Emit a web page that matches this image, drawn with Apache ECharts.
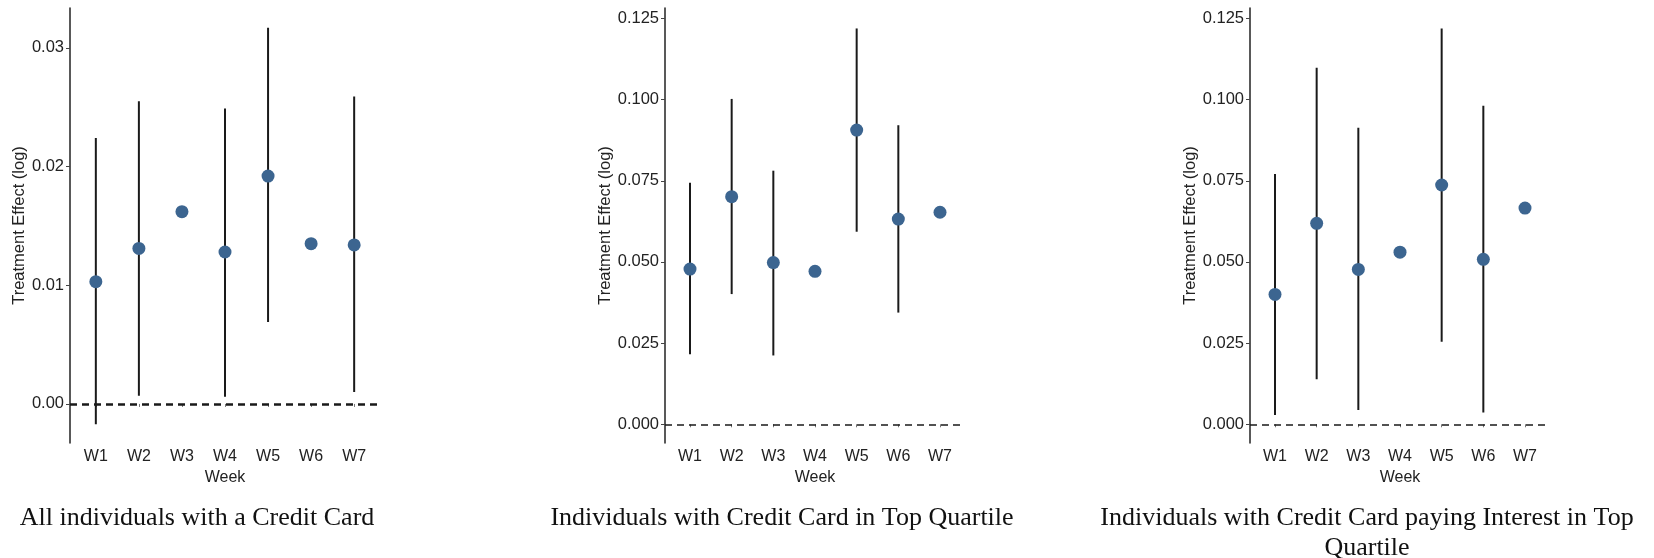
<!DOCTYPE html>
<html>
<head>
<meta charset="utf-8">
<script src="https://cdn.jsdelivr.net/npm/echarts@6/dist/echarts.min.js"></script>
<style>
  html, body { margin: 0; padding: 0; background: #fff; }
  #chart { width: 1654px; height: 558px; }
</style>
</head>
<body>
<div id="chart"></div>
<script>
// Week categories shared by all three panels
const weeks = ['W1', 'W2', 'W3', 'W4', 'W5', 'W6', 'W7'];

// Panel 1: all individuals with a credit card
const est1 = [0.0103, 0.0131, 0.0162, 0.0128, 0.0192, 0.0135, 0.0134];
const lo1  = [-0.0017, 0.0007, null, 0.0006, 0.0069, null, 0.0010];
const hi1  = [0.0224, 0.0255, null, 0.0249, 0.0317, null, 0.0259];

// Panel 2: credit card holders in the top quartile
const est2 = [0.0478, 0.0701, 0.0498, 0.0471, 0.0906, 0.0632, 0.0653];
const lo2  = [0.0216, 0.0401, 0.0212, null, 0.0593, 0.0344, null];
const hi2  = [0.0744, 0.1002, 0.0781, null, 0.1219, 0.0921, null];

// Panel 3: credit card holders paying interest, top quartile
const est3 = [0.0400, 0.0619, 0.0477, 0.0530, 0.0737, 0.0508, 0.0666];
const lo3  = [0.0029, 0.0139, 0.0044, null, 0.0254, 0.0036, null];
const hi3  = [0.0771, 0.1098, 0.0913, null, 0.1219, 0.0981, null];

// Y tick values per panel
const yTicks1 = [0, 0.01, 0.02, 0.03];
const yTicks23 = [0, 0.025, 0.05, 0.075, 0.1, 0.125];

const captions = [
  'All individuals with a Credit Card',
  'Individuals with Credit Card in Top Quartile',
  'Individuals with Credit Card paying Interest in Top\nQuartile'
];

const SANS = 'Liberation Sans, Arial, sans-serif';
const SERIF = 'Liberation Serif, Times New Roman, serif';
const POINT = '#3c6590';
const INK = '#1a1a1a';

const weekIdx = weeks.map((_, i) => i + 1);

const panels = [
  { left: 70,   width: 310, est: est1, lo: lo1, hi: hi1, min: -0.00329, max: 0.03336, ticks: yTicks1,  digits: 2, nameGap: 40, zeroWidth: 2.6 },
  { left: 665,  width: 300, est: est2, lo: lo2, hi: hi2, min: -0.00576, max: 0.1282,  ticks: yTicks23, digits: 3, nameGap: 50, zeroWidth: 1.5 },
  { left: 1250, width: 300, est: est3, lo: lo3, hi: hi3, min: -0.00576, max: 0.1282,  ticks: yTicks23, digits: 3, nameGap: 50, zeroWidth: 1.5 }
];

const grid = [], xAxis = [], yAxis = [], series = [];

panels.forEach((p, k) => {
  grid.push({ left: p.left, top: 8, width: p.width, height: 435 });

  xAxis.push({
    type: 'value', gridIndex: k, min: 0.4, max: 7.6, offset: 3,
    name: 'Week', nameLocation: 'middle', nameGap: 18,
    nameTextStyle: { fontFamily: SANS, fontSize: 16, color: '#222' },
    splitLine: { show: false },
    axisLine: { show: false },
    axisTick: { show: true, length: 3, customValues: weekIdx, lineStyle: { color: '#777', width: 1 } },
    axisLabel: {
      customValues: weekIdx, margin: 3,
      fontFamily: SANS, fontSize: 16, color: '#222',
      formatter: v => weeks[Math.round(v) - 1]
    }
  });

  yAxis.push({
    type: 'value', gridIndex: k, min: p.min, max: p.max,
    name: 'Treatment Effect (log)', nameLocation: 'middle', nameGap: p.nameGap,
    nameTextStyle: { fontFamily: SANS, fontSize: 16.5, color: '#222' },
    splitLine: { show: false },
    axisLine: { show: true, lineStyle: { color: '#222', width: 1.5 } },
    axisTick: { show: true, length: 4, customValues: p.ticks, lineStyle: { color: '#444', width: 1 } },
    axisLabel: {
      customValues: p.ticks, margin: 6,
      fontFamily: SANS, fontSize: 16.5, color: '#222',
      formatter: v => v.toFixed(p.digits)
    }
  });

  // Confidence intervals as vertical segments
  const ci = [];
  weeks.forEach((_, i) => {
    if (p.lo[i] != null && p.hi[i] != null) ci.push([i + 1, p.lo[i], p.hi[i]]);
  });
  series.push({
    type: 'custom', xAxisIndex: k, yAxisIndex: k, z: 2,
    data: ci,
    renderItem: (params, api) => {
      const a = api.coord([api.value(0), api.value(1)]);
      const b = api.coord([api.value(0), api.value(2)]);
      return {
        type: 'line',
        shape: { x1: a[0], y1: a[1], x2: b[0], y2: b[1] },
        style: { stroke: INK, lineWidth: 2 }
      };
    }
  });

  // Point estimates, with the zero reference line
  series.push({
    type: 'scatter', xAxisIndex: k, yAxisIndex: k, z: 3,
    symbol: 'circle', symbolSize: 13,
    itemStyle: { color: POINT, opacity: 1 },
    data: p.est.map((v, i) => [i + 1, v]),
    markLine: {
      silent: true, symbol: 'none', animation: false,
      label: { show: false },
      lineStyle: { color: INK, type: [7, 5], width: p.zeroWidth },
      data: [{ yAxis: 0 }]
    }
  });
});

const captionX = [197, 782, 1367];
const graphic = captions.map((t, k) => ({
  type: 'text', x: captionX[k], y: 503,
  style: {
    text: t, fontFamily: SERIF, fontSize: 26, fill: '#111',
    textAlign: 'center', textVerticalAlign: 'top', lineHeight: 30
  }
}));

const chart = echarts.init(document.getElementById('chart'), null, { renderer: 'canvas' });
chart.setOption({
  animation: false,
  backgroundColor: '#fff',
  grid, xAxis, yAxis, series, graphic
});
</script>
</body>
</html>
